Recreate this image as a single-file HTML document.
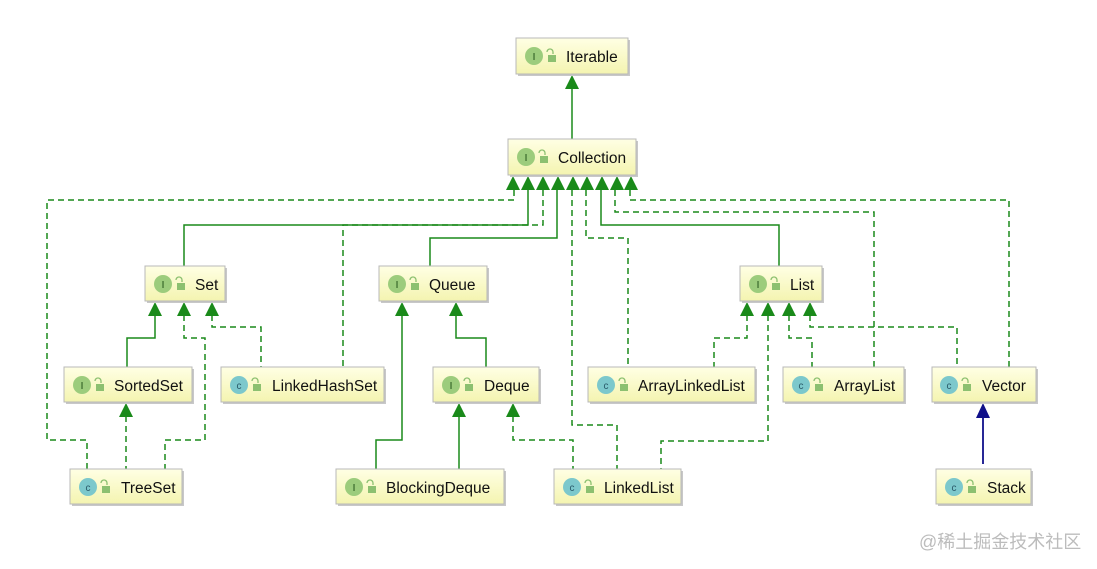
<!DOCTYPE html>
<html><head><meta charset="utf-8"><style>
html,body{margin:0;padding:0;background:#fff}
svg{display:block}
text{font-family:"Liberation Sans","DejaVu Sans",sans-serif}
</style></head><body>
<svg width="1097" height="569" viewBox="0 0 1097 569" xmlns="http://www.w3.org/2000/svg">
<defs>
<linearGradient id="g" x1="0" y1="0" x2="0" y2="1"><stop offset="0" stop-color="#ffffe4"/><stop offset="1" stop-color="#f4f4b0"/></linearGradient>
<g id="lock"><path d="M0,-6 a3,3 0 0 1 6,0 v2" fill="none" stroke="#8cc070" stroke-width="1.3"/><rect x="1" y="-3" width="8" height="7" fill="#8cc070"/></g>
</defs>
<g fill="none" stroke="#1a8a1a" stroke-width="1.5">
<path d="M572,139 V88"/>
<path d="M528,190 V225 H184 V266"/>
<path d="M557,190 V238 H430 V266"/>
<path d="M601,190 V225 H779 V266"/>
<path d="M155,315 V338 H127 V367"/>
<path d="M402,315 V440 H376 V469"/>
<path d="M456,315 V338 H486 V367"/>
<path d="M459,416 V469"/>
</g>
<g fill="none" stroke="#1a8a1a" stroke-width="1.5" stroke-dasharray="6,4">
<path d="M514,190 V200 H47 V440 H87 V469"/>
<path d="M543,190 V225 H343 V367"/>
<path d="M572,190 V425 H617 V469"/>
<path d="M586,190 V238 H628 V367"/>
<path d="M615,190 V212 H874 V367"/>
<path d="M630,190 V200 H1009 V367"/>
<path d="M184,315 V338 H205 V440 H165 V469"/>
<path d="M212,315 V327 H261 V367"/>
<path d="M126,416 V469"/>
<path d="M513,416 V440 H573 V469"/>
<path d="M747,315 V338 H714 V367"/>
<path d="M768,315 V441 H661 V469"/>
<path d="M789,315 V338 H812 V367"/>
<path d="M810,315 V327 H957 V367"/>
</g>
<g fill="#1a8a1a">
<path d="M572,75 l-7,14 h14z"/>
<path d="M513,176 l-7,14 h14z"/><path d="M528,176 l-7,14 h14z"/><path d="M543,176 l-7,14 h14z"/><path d="M558,176 l-7,14 h14z"/><path d="M573,176 l-7,14 h14z"/><path d="M587,176 l-7,14 h14z"/><path d="M602,176 l-7,14 h14z"/><path d="M617,176 l-7,14 h14z"/><path d="M631,176 l-7,14 h14z"/>
<path d="M155,302 l-7,14 h14z"/><path d="M184,302 l-7,14 h14z"/><path d="M212,302 l-7,14 h14z"/>
<path d="M402,302 l-7,14 h14z"/><path d="M456,302 l-7,14 h14z"/>
<path d="M747,302 l-7,14 h14z"/><path d="M768,302 l-7,14 h14z"/><path d="M789,302 l-7,14 h14z"/><path d="M810,302 l-7,14 h14z"/>
<path d="M126,403 l-7,14 h14z"/><path d="M459,403 l-7,14 h14z"/><path d="M513,403 l-7,14 h14z"/>
</g>
<path d="M983,417 V464" stroke="#10108a" stroke-width="1.8"/>
<path d="M983,403 l-7,15 h14z" fill="#10108a"/>

<g font-size="15.5" fill="#111">
<g transform="translate(516,38)"><rect x="2" y="2" width="112" height="36" fill="#c8c8c8"/><rect width="112" height="36" fill="url(#g)" stroke="#b8b8b8"/><circle cx="18" cy="18" r="9" fill="#9ccc7c"/><text x="18" y="22" font-size="10" font-weight="bold" fill="#4a7a3a" text-anchor="middle">I</text><use href="#lock" x="31" y="20"/><text x="50" y="24">Iterable</text></g>
<g transform="translate(508,139)"><rect x="2" y="2" width="128" height="36" fill="#c8c8c8"/><rect width="128" height="36" fill="url(#g)" stroke="#b8b8b8"/><circle cx="18" cy="18" r="9" fill="#9ccc7c"/><text x="18" y="22" font-size="10" font-weight="bold" fill="#4a7a3a" text-anchor="middle">I</text><use href="#lock" x="31" y="20"/><text x="50" y="24">Collection</text></g>
<g transform="translate(145,266)"><rect x="2" y="2" width="80" height="35" fill="#c8c8c8"/><rect width="80" height="35" fill="url(#g)" stroke="#b8b8b8"/><circle cx="18" cy="18" r="9" fill="#9ccc7c"/><text x="18" y="22" font-size="10" font-weight="bold" fill="#4a7a3a" text-anchor="middle">I</text><use href="#lock" x="31" y="20"/><text x="50" y="24">Set</text></g>
<g transform="translate(379,266)"><rect x="2" y="2" width="108" height="35" fill="#c8c8c8"/><rect width="108" height="35" fill="url(#g)" stroke="#b8b8b8"/><circle cx="18" cy="18" r="9" fill="#9ccc7c"/><text x="18" y="22" font-size="10" font-weight="bold" fill="#4a7a3a" text-anchor="middle">I</text><use href="#lock" x="31" y="20"/><text x="50" y="24">Queue</text></g>
<g transform="translate(740,266)"><rect x="2" y="2" width="82" height="35" fill="#c8c8c8"/><rect width="82" height="35" fill="url(#g)" stroke="#b8b8b8"/><circle cx="18" cy="18" r="9" fill="#9ccc7c"/><text x="18" y="22" font-size="10" font-weight="bold" fill="#4a7a3a" text-anchor="middle">I</text><use href="#lock" x="31" y="20"/><text x="50" y="24">List</text></g>
<g transform="translate(64,367)"><rect x="2" y="2" width="128" height="35" fill="#c8c8c8"/><rect width="128" height="35" fill="url(#g)" stroke="#b8b8b8"/><circle cx="18" cy="18" r="9" fill="#9ccc7c"/><text x="18" y="22" font-size="10" font-weight="bold" fill="#4a7a3a" text-anchor="middle">I</text><use href="#lock" x="31" y="20"/><text x="50" y="24">SortedSet</text></g>
<g transform="translate(221,367)"><rect x="2" y="2" width="163" height="35" fill="#c8c8c8"/><rect width="163" height="35" fill="url(#g)" stroke="#b8b8b8"/><circle cx="18" cy="18" r="9" fill="#7cc8cc"/><text x="18" y="22" font-size="10" fill="#2a5a6a" text-anchor="middle">c</text><use href="#lock" x="31" y="20"/><text x="51" y="24">LinkedHashSet</text></g>
<g transform="translate(433,367)"><rect x="2" y="2" width="106" height="35" fill="#c8c8c8"/><rect width="106" height="35" fill="url(#g)" stroke="#b8b8b8"/><circle cx="18" cy="18" r="9" fill="#9ccc7c"/><text x="18" y="22" font-size="10" font-weight="bold" fill="#4a7a3a" text-anchor="middle">I</text><use href="#lock" x="31" y="20"/><text x="51" y="24">Deque</text></g>
<g transform="translate(588,367)"><rect x="2" y="2" width="167" height="35" fill="#c8c8c8"/><rect width="167" height="35" fill="url(#g)" stroke="#b8b8b8"/><circle cx="18" cy="18" r="9" fill="#7cc8cc"/><text x="18" y="22" font-size="10" fill="#2a5a6a" text-anchor="middle">c</text><use href="#lock" x="31" y="20"/><text x="50" y="24">ArrayLinkedList</text></g>
<g transform="translate(783,367)"><rect x="2" y="2" width="121" height="35" fill="#c8c8c8"/><rect width="121" height="35" fill="url(#g)" stroke="#b8b8b8"/><circle cx="18" cy="18" r="9" fill="#7cc8cc"/><text x="18" y="22" font-size="10" fill="#2a5a6a" text-anchor="middle">c</text><use href="#lock" x="31" y="20"/><text x="51" y="24">ArrayList</text></g>
<g transform="translate(932,367)"><rect x="2" y="2" width="104" height="35" fill="#c8c8c8"/><rect width="104" height="35" fill="url(#g)" stroke="#b8b8b8"/><circle cx="17" cy="18" r="9" fill="#7cc8cc"/><text x="17" y="22" font-size="10" fill="#2a5a6a" text-anchor="middle">c</text><use href="#lock" x="30" y="20"/><text x="50" y="24">Vector</text></g>
<g transform="translate(70,469)"><rect x="2" y="2" width="112" height="35" fill="#c8c8c8"/><rect width="112" height="35" fill="url(#g)" stroke="#b8b8b8"/><circle cx="18" cy="18" r="9" fill="#7cc8cc"/><text x="18" y="22" font-size="10" fill="#2a5a6a" text-anchor="middle">c</text><use href="#lock" x="31" y="20"/><text x="51" y="24">TreeSet</text></g>
<g transform="translate(336,469)"><rect x="2" y="2" width="168" height="35" fill="#c8c8c8"/><rect width="168" height="35" fill="url(#g)" stroke="#b8b8b8"/><circle cx="18" cy="18" r="9" fill="#9ccc7c"/><text x="18" y="22" font-size="10" font-weight="bold" fill="#4a7a3a" text-anchor="middle">I</text><use href="#lock" x="31" y="20"/><text x="50" y="24">BlockingDeque</text></g>
<g transform="translate(554,469)"><rect x="2" y="2" width="127" height="35" fill="#c8c8c8"/><rect width="127" height="35" fill="url(#g)" stroke="#b8b8b8"/><circle cx="18" cy="18" r="9" fill="#7cc8cc"/><text x="18" y="22" font-size="10" fill="#2a5a6a" text-anchor="middle">c</text><use href="#lock" x="31" y="20"/><text x="50" y="24">LinkedList</text></g>
<g transform="translate(936,469)"><rect x="2" y="2" width="95" height="35" fill="#c8c8c8"/><rect width="95" height="35" fill="url(#g)" stroke="#b8b8b8"/><circle cx="18" cy="18" r="9" fill="#7cc8cc"/><text x="18" y="22" font-size="10" fill="#2a5a6a" text-anchor="middle">c</text><use href="#lock" x="31" y="20"/><text x="51" y="24">Stack</text></g>
</g>
<text x="919" y="548" font-size="18" fill="#bcbcbc" style="font-family:'Liberation Sans','Noto Sans CJK SC',sans-serif">@稀土掘金技术社区</text>
</svg>
</body></html>
